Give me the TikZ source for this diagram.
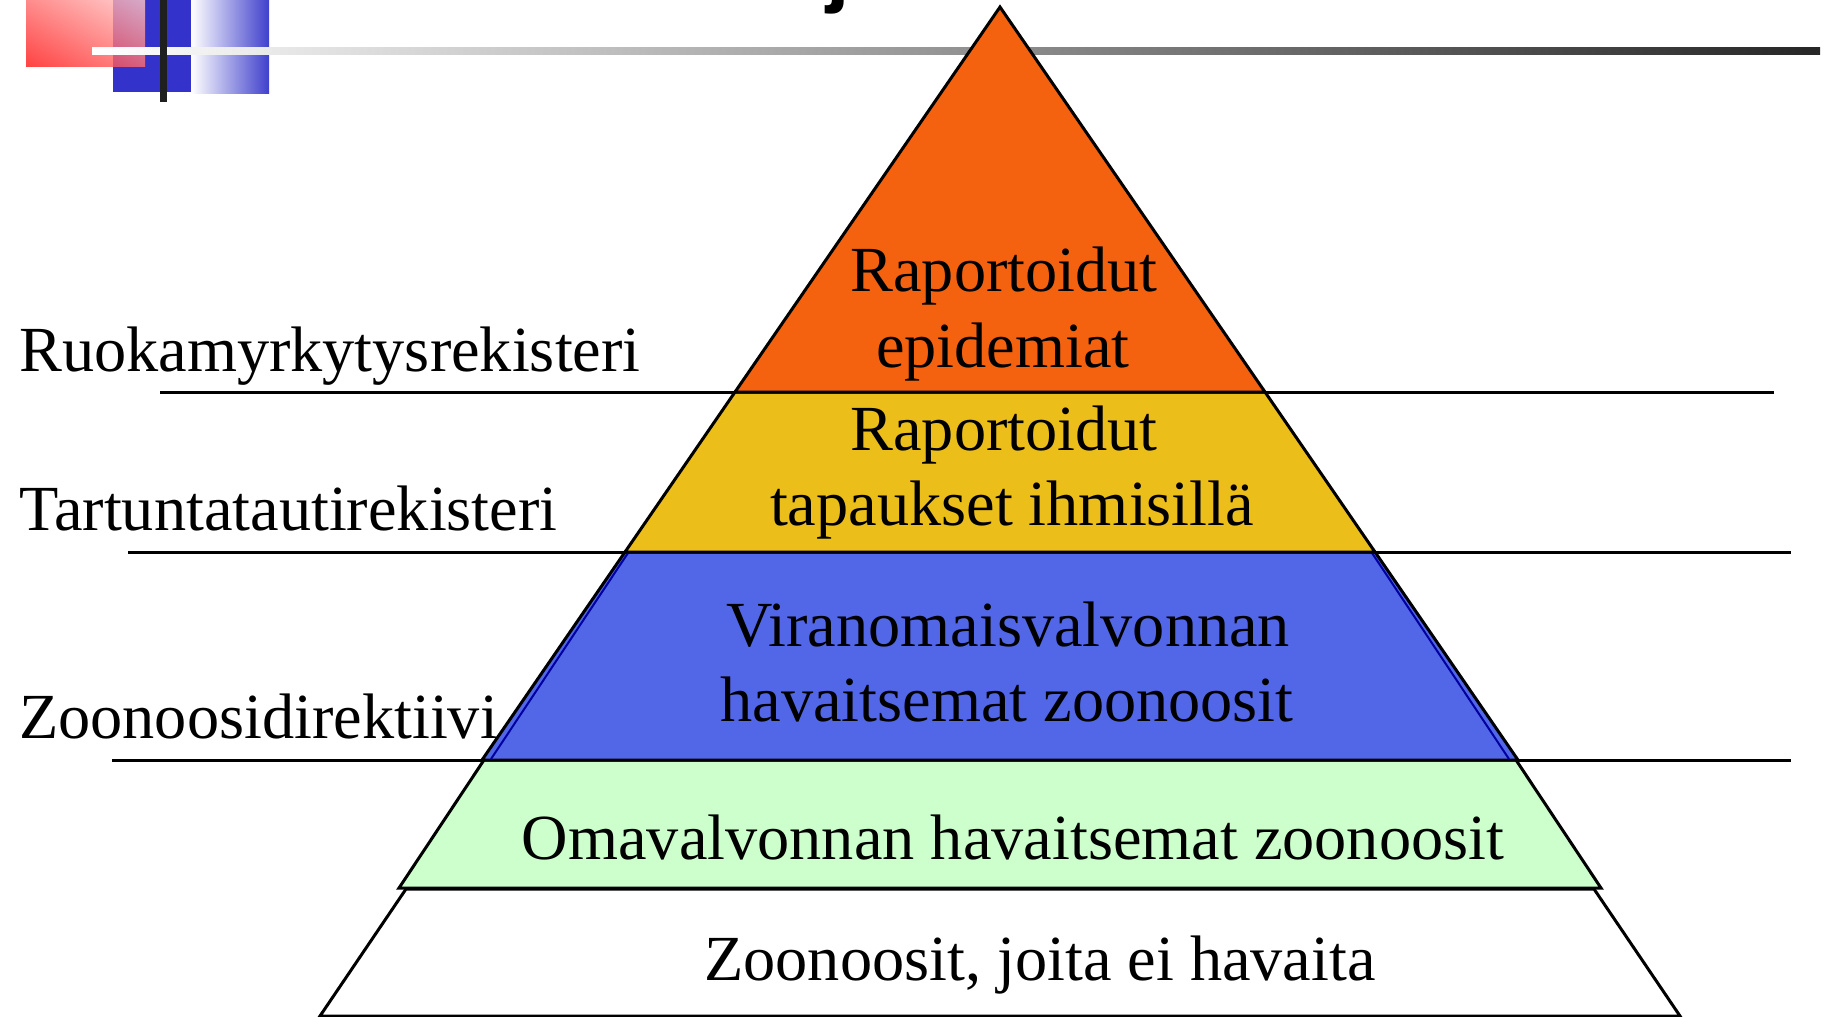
\documentclass[tikz,border=0pt]{standalone}
\usepackage{fontspec}
\usetikzlibrary{shadings}
\setmainfont{Liberation Serif}
\newfontfamily\titlefont{Liberation Sans}
\definecolor{orangeL}{RGB}{245,98,15}
\definecolor{yellowL}{RGB}{235,190,26}
\definecolor{blueL}{RGB}{82,102,232}
\definecolor{blueD}{RGB}{0,0,160}
\definecolor{greenL}{RGB}{204,255,204}
\definecolor{decoBlue}{RGB}{51,51,204}
\definecolor{decoBlueR}{RGB}{64,64,204}
\definecolor{redA}{RGB}{255,20,20}
\definecolor{redB}{RGB}{255,110,110}
\definecolor{redC}{RGB}{255,200,200}
\begin{document}
\begin{tikzpicture}[x=1pt,y=-1pt,
  layerbox/.style={draw=black,line width=3pt,line join=miter},
  sepline/.style={draw=black,line width=3pt},
  lbl/.style={inner sep=0pt,anchor=base,font=\fontsize{64.3}{76}\selectfont},
  side/.style={inner sep=0pt,anchor=base west,font=\fontsize{64.3}{76}\selectfont}]
\useasboundingbox (0,0) rectangle (1824,1017);
% --- decoration top left ---
\fill[decoBlue] (113,0) rectangle (191,92);
\shade[left color=white,right color=decoBlueR] (191,0) rectangle (269,93);
\shade[fill opacity=0.8,upper left=redB,upper right=redC,lower left=redA,lower right=redB] (26,0) rectangle (145,66);
\shade[left color=white,right color=black!85] (92,47) rectangle (1820,54);
\fill[black!88] (160,0) rectangle (167,102);
% title fragment
\node[inner sep=0pt,anchor=base west,font=\titlefont\bfseries\fontsize{85}{85}\selectfont] (title) at (826,-3) {j};
% --- coordinates ---
\coordinate (apex) at (1000,7);
\coordinate (oL) at (735,392);  \coordinate (oR) at (1265,392);
\coordinate (yL) at (625,552);  \coordinate (yR) at (1375,552);
\coordinate (bL) at (482,760);  \coordinate (bR) at (1518,760);
\coordinate (gTL) at (484,760); \coordinate (gTR) at (1516,760);
\coordinate (gBL) at (399,888); \coordinate (gBR) at (1601,888);
\coordinate (wTL) at (406,889); \coordinate (wTR) at (1594,889);
\coordinate (wBL) at (320,1016); \coordinate (wBR) at (1680,1016);
\coordinate (s1a) at (160,392); \coordinate (s1b) at (1774,392);
\coordinate (s2a) at (128,552); \coordinate (s2b) at (1791,552);
\coordinate (s3a) at (112,760); \coordinate (s3b) at (1791,760);
% --- separator lines ---
\draw[sepline] (s1a) -- (s1b);
\draw[sepline] (s2a) -- (s2b);
\draw[sepline] (s3a) -- (s3b);
% --- layers ---
\path[layerbox,fill=white] (wTL) -- (wTR) -- (wBR) -- (wBL) -- cycle;
\path[layerbox,fill=greenL] (gTL) -- (gTR) -- (gBR) -- (gBL) -- cycle;
\path[layerbox,fill=blueL] (yL) -- (yR) -- (bR) -- (bL) -- cycle;
\draw[blueD,line width=2pt] ([shift={(3,1)}]yL) -- ([shift={(9,-1)}]bL);
\draw[blueD,line width=2pt] ([shift={(-3,1)}]yR) -- ([shift={(-9,-1)}]bR);
\path[layerbox,fill=yellowL] (oL) -- (oR) -- (yR) -- (yL) -- cycle;
\path[layerbox,fill=orangeL] (apex) -- (oR) -- (oL) -- cycle;
% --- texts ---
\node[lbl] (o1) at (1004,291) {Raportoidut};
\node[lbl] (o2) at (1003,367) {epidemiat};
\node[lbl] (y1) at (1004,450) {Raportoidut};
\node[lbl] (y2) at (1012,525) {tapaukset ihmisillä};
\node[lbl] (b1) at (1008,646) {Viranomaisvalvonnan};
\node[lbl] (b2) at (1007,721) {havaitsemat zoonoosit};
\node[lbl] (g1) at (1013,859) {Omavalvonnan havaitsemat zoonoosit};
\node[lbl] (w1) at (1040,980) {Zoonoosit, joita ei havaita};
\node[side] (r1) at (19,371) {Ruokamyrkytysrekisteri};
\node[side] (r2) at (19,530) {Tartuntatautirekisteri};
\node[side] (r3) at (19,738) {Zoonoosidirektiivi};
\end{tikzpicture}
\end{document}
